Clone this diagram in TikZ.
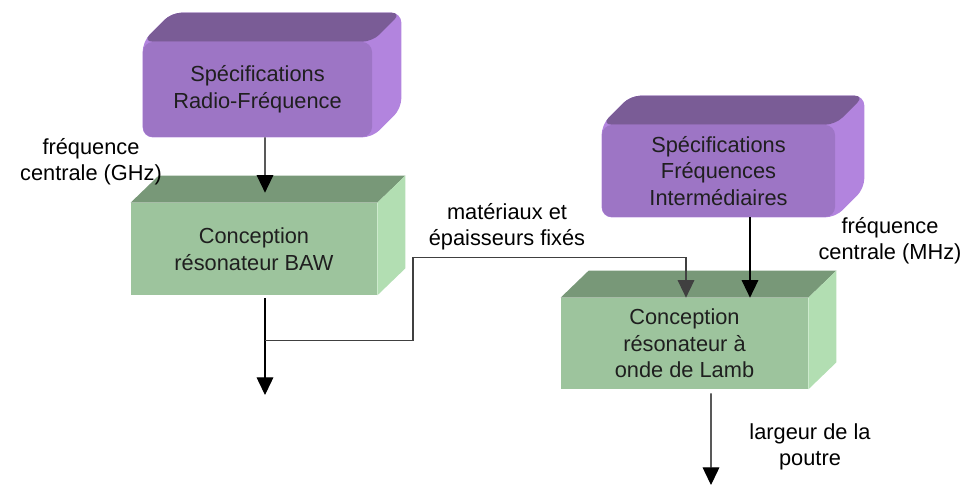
\documentclass[tikz,border=0pt]{standalone}
\usepackage{fontspec}
\setmainfont{Liberation Sans}
\usetikzlibrary{arrows.meta,backgrounds}
\definecolor{pfront}{RGB}{157,117,197}
\definecolor{ptop}{RGB}{122,92,150}
\definecolor{pside}{RGB}{178,132,222}
\definecolor{gfront}{RGB}{157,196,157}
\definecolor{gtop}{RGB}{120,152,120}
\definecolor{gside}{RGB}{178,222,178}

\begin{document}
\begin{tikzpicture}[x=0.2mm,y=-0.2mm,
  box/.style={inner sep=0pt,align=center,text=black!88,font=\fontsize{12.4}{15.2}\selectfont},
  purplebox/.style={box,fill=pfront,rounded corners=2mm},
  greenbox/.style={box,fill=gfront},
  lbl/.style={align=center,font=\fontsize{12.4}{15}\selectfont},
  arr/.style={-{Triangle[width=9.5pt,length=10pt]},line width=0.6pt}]
  \useasboundingbox (0,0) rectangle (965,486);
  \node[purplebox,minimum width=45.8mm,minimum height=19mm] (rf) at (257.5,89.5) {Spécifications\\Radio-Fréquence};
  \node[purplebox,minimum width=46.6mm,minimum height=18.4mm] (fi) at (718.5,171) {Spécifications\\Fréquences\\Intermédiaires};
  \node[greenbox,minimum width=49.2mm,minimum height=18.4mm] (baw) at (254,249) {Conception\\résonateur BAW};
  \node[greenbox,minimum width=49.4mm,minimum height=18.2mm] (lamb) at (684.5,343.5) {Conception\\résonateur à\\onde de Lamb};
  \begin{scope}[on background layer]
    \foreach \n in {rf,fi} {
      \fill[pside,rounded corners=2mm] (\n.south west) -- (\n.north west) -- ([shift={(29,-29)}]\n.north west)
        -- ([shift={(29,-29)}]\n.north east) -- ([shift={(29,-29)}]\n.south east) -- (\n.south east) -- cycle;
      \fill[ptop,rounded corners=2mm] (\n.north west) -- ([shift={(29,-29)}]\n.north west)
        -- ([shift={(29,-29)}]\n.north east) -- (\n.north east) -- cycle;}
    \foreach \n in {baw,lamb} {
      \fill[gtop] (\n.north west) -- ([shift={(28,-27)}]\n.north west) -- ([shift={(28,-27)}]\n.north east) -- (\n.north east) -- cycle;
      \fill[gside] (\n.north east) -- ([shift={(28,-27)}]\n.north east) -- ([shift={(28,-27)}]\n.south east) -- (\n.south east) -- cycle;}
  \end{scope}
  % labels
  \node[lbl] (fghz) at (91,162) {fréquence\\centrale (GHz)};
  \node[lbl] (mat) at (507,227) {matériaux et\\épaisseurs fixés};
  \node[lbl] (fmhz) at (890,241) {fréquence\\centrale (MHz)};
  \node[lbl] (larg) at (810,447) {largeur de la\\poutre};
  % connectors
  \coordinate (bawout) at (265,395);
  \coordinate (lambout) at (711,485);
  \draw[arr] ([shift={(7.5,0)}]rf.south) -- ([shift={(11,-10)}]baw.north);
  \draw[arr] ([shift={(11,3)}]baw.south) -- (bawout);
  \draw[arr,draw=black!75] ([shift={(11,45)}]baw.south) -- ++(148,0) |- ([shift={(1.5,-40)}]lamb.north) -- ([shift={(1.5,0)}]lamb.north);
  \draw[arr] ([shift={(31.5,0)}]fi.south) -- ([shift={(65.5,0)}]lamb.north);
  \draw[arr] ([shift={(26.5,4)}]lamb.south) -- (lambout);
\end{tikzpicture}
\end{document}
